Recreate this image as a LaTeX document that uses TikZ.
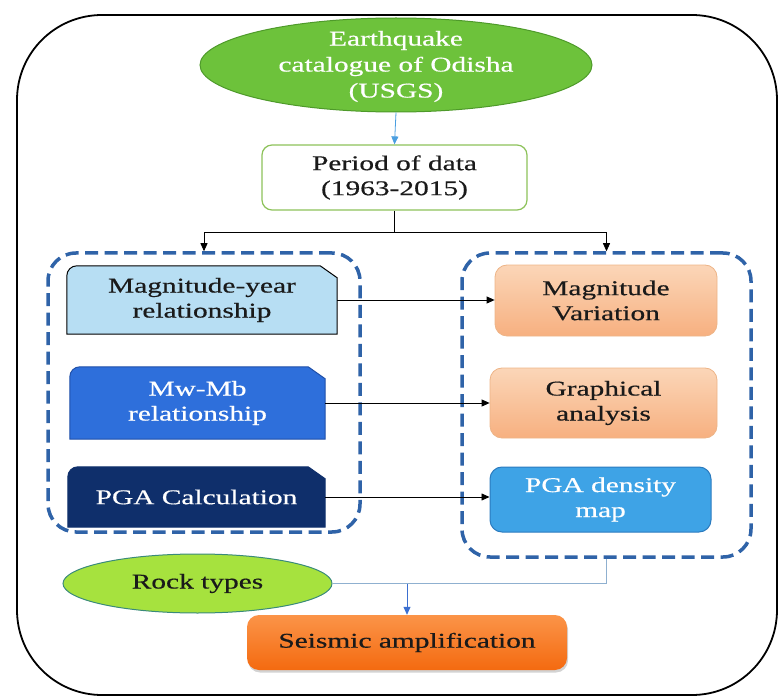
\documentclass[tikz,border=0pt]{standalone}
\usepackage{fontspec}
\setmainfont[FakeStretch=1.4, UprightFeatures={FakeBold=0.5}]{Liberation Serif}
\usetikzlibrary{shapes.geometric,arrows.meta,shadows}
\definecolor{eqgreen}{HTML}{6DC23B}
\definecolor{eqborder}{HTML}{4E9A2A}
\definecolor{pgreen}{HTML}{8DC25A}
\definecolor{arrblue}{HTML}{4A9EE0}
\definecolor{dashblue}{HTML}{2F63A8}
\definecolor{mylight}{HTML}{B7DEF3}
\definecolor{mwblue}{HTML}{2E6FDB}
\definecolor{mwborder}{HTML}{1F4FA8}
\definecolor{navy}{HTML}{0F2F6B}
\definecolor{peachtop}{HTML}{FBD6B8}
\definecolor{peachbot}{HTML}{F7B080}
\definecolor{peachborder}{HTML}{EDB487}
\definecolor{pgadblue}{HTML}{3EA3E6}
\definecolor{pgadborder}{HTML}{2B7BBF}
\definecolor{rockgreen}{HTML}{A6E23E}
\definecolor{rockborder}{HTML}{3A8A7A}
\definecolor{seistop}{HTML}{FB9448}
\definecolor{seisbot}{HTML}{F46A10}
\definecolor{linegray}{HTML}{8FB0D0}
\definecolor{downblue}{HTML}{3B6FD0}
\definecolor{txtdark}{HTML}{1A1A1A}
\tikzset{
  txt/.style={font=\fontsize{21}{25}\selectfont, align=center, inner sep=0pt, text=txtdark},
  grp/.style={draw=dashblue, line width=3.5pt, dash pattern=on 13pt off 6.5pt, rounded corners=28pt, inner sep=0pt},
  plainbox/.style={txt, rectangle},
  peach/.style={txt, rectangle, rounded corners=12pt, draw=peachborder, line width=0.8pt, top color=peachtop, bottom color=peachbot},
  conn/.style={draw=black, line width=0.8pt, -{Triangle[width=7pt,length=8pt]}},
  tri/.style={-{Triangle[width=7pt,length=8pt]}}
}
\newcommand\snipshape[3]{%
  \path[fill=#2, draw=#3, line width=1pt]
    (#1.south west) -- ([yshift=-10pt]#1.north west)
    arc[start angle=180, end angle=90, radius=10pt]
    -- ([xshift=-17pt]#1.north east) -- ([yshift=-12pt]#1.north east)
    -- (#1.south east) -- cycle;}
\begin{document}
\begin{tikzpicture}[x=1pt,y=1pt]
\useasboundingbox (0,0) rectangle (780,-698);
% outer frame
\draw[line width=1.8pt, rounded corners=85pt] (17,-15) rectangle (777,-695);

% top ellipse
\node[ellipse, draw=eqborder, line width=1pt, fill=eqgreen, minimum width=392pt, minimum height=94pt, inner sep=0pt] (eq) at (396,-65) {};
\node[txt, text=white, font=\fontsize{21}{26}\selectfont] (eqtxt) at ([yshift=-1.5pt]eq.center) {Earthquake\\catalogue of Odisha\\(USGS)};

% period box
\node[plainbox, draw=pgreen, line width=1.2pt, rounded corners=10pt, fill=white, minimum width=265pt, minimum height=65pt] (period) at (394.5,-177.5) {Period of data\\(1963-2015)};

% groups
\node[grp, minimum width=312pt, minimum height=279pt] (lgrp) at (204,-392.5) {};
\node[grp, minimum width=289pt, minimum height=304pt] (rgrp) at (606.5,-405) {};

% left boxes
\node[plainbox, minimum width=270pt, minimum height=68pt] (my) at (202,-300) {};
\snipshape{my}{mylight}{black}
\node[txt] (mytxt) at (my.center) {Magnitude-year\\relationship};

\node[plainbox, minimum width=255pt, minimum height=72pt] (mwmb) at (197.5,-403) {};
\snipshape{mwmb}{mwblue}{mwborder}
\node[txt, text=white] (mwmbtxt) at (mwmb.center) {Mw-Mb\\relationship};

\node[plainbox, minimum width=257pt, minimum height=60pt] (pgac) at (196.5,-497) {};
\snipshape{pgac}{navy}{navy}
\node[txt, text=white] (pgactxt) at (pgac.center) {PGA Calculation};

% right boxes
\node[peach, minimum width=222pt, minimum height=71pt] (mv) at (606,-300.5) {Magnitude\\Variation};
\node[peach, minimum width=227pt, minimum height=70pt] (ga) at (603.5,-403) {Graphical\\analysis};
\node[txt, rectangle, rounded corners=12pt, draw=pgadborder, line width=1pt, fill=pgadblue, text=white, minimum width=221pt, minimum height=65pt] (pgad) at (600.5,-499.5) {PGA density\\map};

% bottom
\node[ellipse, draw=rockborder, line width=1pt, fill=rockgreen, minimum width=269pt, minimum height=59pt, inner sep=0pt, txt] (rock) at (197.5,-583.5) {Rock types};
\node[txt, rectangle, rounded corners=12pt, top color=seistop, bottom color=seisbot, draw=none, minimum width=320pt, minimum height=55pt, drop shadow={opacity=0.35, shadow xshift=1pt, shadow yshift=-2.5pt}] (seis) at (407,-642.5) {Seismic amplification};

% connectors
\draw[draw=arrblue, line width=0.8pt, tri, arrblue] (eq.south) -- (period.north);
\coordinate (junc) at ([yshift=-22pt]period.south);
\draw[line width=0.8pt] (period.south) -- (junc);
\draw[conn] (junc) -| (lgrp.north);
\draw[conn] (junc) -| (rgrp.north);
\draw[conn] (my.east) -- (my.east -| mv.west);
\draw[conn] (mwmb.east) -- (mwmb.east -| ga.west);
\draw[conn] (pgac.east) -- (pgac.east -| pgad.west);
\draw[draw=linegray, line width=1pt] (rgrp.south) |- (rock.east);
\draw[draw=downblue, line width=0.8pt, tri, downblue] (seis.north |- rock.east) -- (seis.north);
\end{tikzpicture}
\end{document}
